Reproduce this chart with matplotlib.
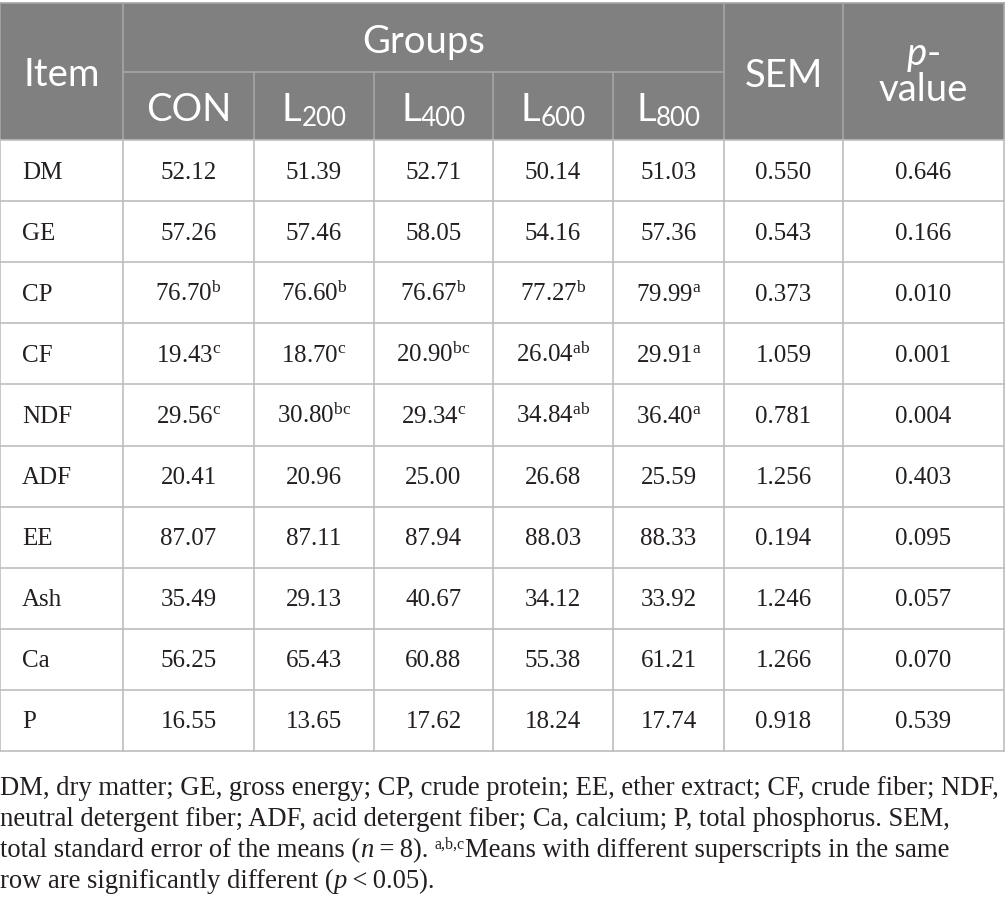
import matplotlib
matplotlib.use('Agg')
import matplotlib.pyplot as plt
from matplotlib.patches import Rectangle

plt.rcParams['mathtext.fontset'] = 'custom'
plt.rcParams['mathtext.rm'] = 'Liberation Serif'
plt.rcParams['mathtext.it'] = 'Liberation Serif:italic'

# ---------------------------------------------------------------
items = ['DM', 'GE', 'CP', 'CF', 'NDF', 'ADF', 'EE', 'Ash', 'Ca', 'P']
groups = ['CON', '200', '400', '600', '800']

con  = [52.12, 57.26, 76.70, 19.43, 29.56, 20.41, 87.07, 35.49, 56.25, 16.55]
l200 = [51.39, 57.46, 76.60, 18.70, 30.80, 20.96, 87.11, 29.13, 65.43, 13.65]
l400 = [52.71, 58.05, 76.67, 20.90, 29.34, 25.00, 87.94, 40.67, 60.88, 17.62]
l600 = [50.14, 54.16, 77.27, 26.04, 34.84, 26.68, 88.03, 34.12, 55.38, 18.24]
l800 = [51.03, 57.36, 79.99, 29.91, 36.40, 25.59, 88.33, 33.92, 61.21, 17.74]
sem  = [0.550, 0.543, 0.373, 1.059, 0.781, 1.256, 0.194, 1.246, 1.266, 0.918]
pval = [0.646, 0.166, 0.010, 0.001, 0.004, 0.403, 0.095, 0.057, 0.070, 0.539]

sup_con  = ['', '', 'b', 'c', 'c', '', '', '', '', '']
sup_l200 = ['', '', 'b', 'c', 'bc', '', '', '', '', '']
sup_l400 = ['', '', 'b', 'bc', 'c', '', '', '', '', '']
sup_l600 = ['', '', 'b', 'ab', 'ab', '', '', '', '', '']
sup_l800 = ['', '', 'a', 'a', 'a', '', '', '', '', '']

# ---------------------------------------------------------------
W, H = 1005, 920
col_edges = [0, 123, 254, 374, 493, 613, 724, 843, 1004]
top, mid, hdr_bot = 4, 73, 141
row_h = 61.1

HEAD_BG = '#808080'
HEAD_LINE = '#a6a6a6'
GRID = '#bdbdbd'
TXT = '#231f20'
SANS = 'Lato'
SERIF = 'Liberation Serif'
HFS = 27.5
BFS = 18

fig = plt.figure(figsize=(W / 100, H / 100), dpi=100)
ax = fig.add_axes([0, 0, 1, 1])
ax.set_xlim(0, W)
ax.set_ylim(H, 0)
ax.axis('off')
renderer = fig.canvas.get_renderer()


def width_of(t):
    bb = t.get_window_extent(renderer=renderer)
    return bb.width


def draw_runs(x, y, runs, ha='center'):
    # runs: list of (text, dict(size, style, family, dy))
    texts = []
    total = 0
    for s, kw in runs:
        t = ax.text(0, y - kw.get('dy', 0), s, ha='left', va='baseline',
                    fontsize=kw.get('size', BFS), fontstyle=kw.get('style', 'normal'),
                    family=kw.get('family', SERIF), color=kw.get('color', TXT))
        w = width_of(t)
        texts.append((t, w))
        total += w
    x0 = x - total / 2 if ha == 'center' else x
    for t, w in texts:
        t.set_x(x0)
        x0 += w
    return total


# header background
ax.add_patch(Rectangle((col_edges[0], top), col_edges[-1] - col_edges[0], hdr_bot - top,
                       facecolor=HEAD_BG, edgecolor='none', zorder=0))

# header lines
ax.plot([col_edges[0], col_edges[-1]], [top, top], color=HEAD_LINE, lw=1.2)
ax.plot([col_edges[1], col_edges[6]], [mid, mid], color=HEAD_LINE, lw=1.2)
for i, x in enumerate(col_edges):
    if i in (0, 1, 6, 7, 8):
        ax.plot([x, x], [top, hdr_bot], color=HEAD_LINE, lw=1.2)
    else:
        ax.plot([x, x], [mid, hdr_bot], color=HEAD_LINE, lw=1.2)

# header text
hw = dict(size=HFS, family=SANS, color='white')
draw_runs((col_edges[0] + col_edges[1]) / 2, 86, [('Item', hw)])
draw_runs((col_edges[1] + col_edges[6]) / 2, 53, [('Groups', hw)])
draw_runs((col_edges[6] + col_edges[7]) / 2, 87, [('SEM', hw)])
draw_runs((col_edges[7] + col_edges[8]) / 2, 65, [('p', dict(hw, style='italic')), ('-', hw)])
draw_runs((col_edges[7] + col_edges[8]) / 2, 101, [('value', hw)])
sub = dict(size=HFS * 0.68, family=SANS, color='white', dy=-5)
for j, g in enumerate(groups):
    cx = (col_edges[j + 1] + col_edges[j + 2]) / 2
    if g == 'CON':
        draw_runs(cx, 121, [(g, hw)])
    else:
        draw_runs(cx, 121, [('L', hw), (g, sub)])

# body grid
n = len(items)
bot = hdr_bot + n * row_h
for i in range(n + 1):
    y = hdr_bot + i * row_h
    ax.plot([col_edges[0], col_edges[-1]], [y, y], color=GRID, lw=1.2)
for x in col_edges:
    ax.plot([x, x], [hdr_bot, bot], color=GRID, lw=1.2)

# body text
cols = [(con, sup_con), (l200, sup_l200), (l400, sup_l400), (l600, sup_l600), (l800, sup_l800)]
for i, it in enumerate(items):
    yb = hdr_bot + (i + 0.5) * row_h + 7
    ax.text(22, yb, it, ha='left', va='baseline', fontsize=BFS, family=SERIF, color=TXT)
    for j, (vals, sups) in enumerate(cols):
        cx = (col_edges[j + 1] + col_edges[j + 2]) / 2
        s = f'{vals[i]:.2f}'
        if sups[i]:
            s += r'$^{\mathrm{' + sups[i] + '}}$'
        ax.text(cx, yb, s, ha='center', va='baseline', fontsize=BFS, family=SERIF, color=TXT)
    ax.text((col_edges[6] + col_edges[7]) / 2, yb, f'{sem[i]:.3f}', ha='center',
            va='baseline', fontsize=BFS, family=SERIF, color=TXT)
    ax.text((col_edges[7] + col_edges[8]) / 2, yb, f'{pval[i]:.3f}', ha='center',
            va='baseline', fontsize=BFS, family=SERIF, color=TXT)

# footnote
FFS = 19.2
fw = dict(size=FFS)
fi = dict(size=FFS, style='italic')
fs = dict(size=FFS * 0.6, dy=8)
foot_lines = [
    [('DM, dry matter; GE, gross energy; CP, crude protein; EE, ether extract; CF, crude fiber; NDF,', fw)],
    [('neutral detergent fiber; ADF, acid detergent fiber; Ca, calcium; P, total phosphorus. SEM,', fw)],
    [('total standard error of the means (', fw), ('n', fi), ('\u2009=\u20098). ', fw),
     ('a,b,c', fs), ('Means with different superscripts in the same', fw)],
    [('row are significantly different (', fw), ('p', fi), ('\u2009<\u20090.05).', fw)],
]
for k, line in enumerate(foot_lines):
    draw_runs(0, 795 + k * 31, line, ha='left')

fig.savefig('out.png', dpi=100)
